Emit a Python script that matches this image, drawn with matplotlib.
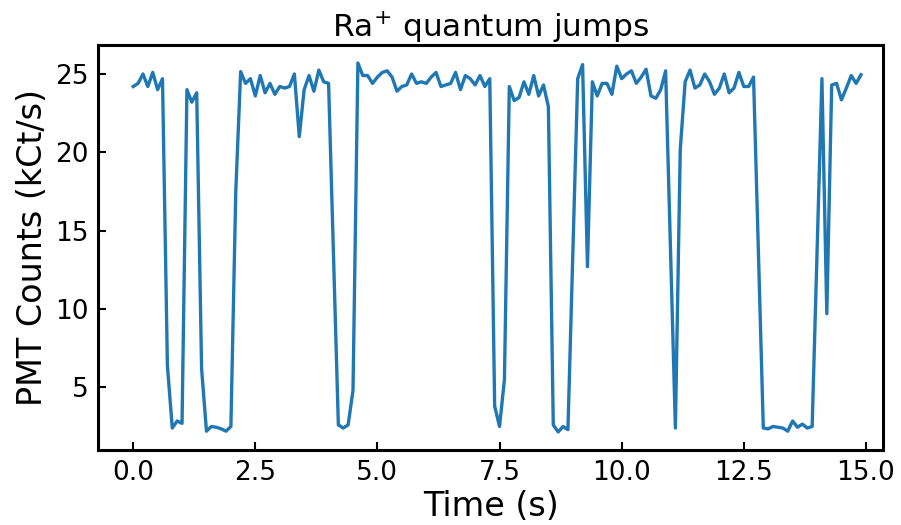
import numpy as np
import matplotlib
matplotlib.use("Agg")
import matplotlib.pyplot as plt

# Time axis (s), 0.1 s bins
time_s = np.round(np.arange(0, 15.0, 0.1), 1)

# PMT counts (kCt/s)
counts = [
    24.2, 24.4, 25.0, 24.2, 25.1, 24.0, 24.7, 6.4, 2.4, 2.85,
    2.7, 24.0, 23.2, 23.8, 6.2, 2.2, 2.5, 2.45, 2.35, 2.2,
    2.5, 17.5, 25.15, 24.4, 24.7, 23.6, 24.9, 23.8, 24.4, 23.7,
    24.2, 24.1, 24.2, 25.0, 21.0, 24.0, 24.9, 23.9, 25.25, 24.5,
    24.4, 13.4, 2.6, 2.4, 2.6, 4.8, 25.7, 24.9, 24.9, 24.4,
    24.8, 25.1, 25.2, 24.8, 23.9, 24.2, 24.3, 25.0, 24.4, 24.5,
    24.4, 24.8, 25.1, 24.2, 24.3, 24.4, 25.1, 24.0, 24.9, 24.7,
    24.3, 24.9, 24.2, 24.7, 3.8, 2.5, 5.5, 24.2, 23.3, 23.5,
    24.5, 23.7, 24.9, 23.6, 24.3, 22.9, 2.6, 2.15, 2.5, 2.3,
    13.5, 24.7, 25.6, 12.7, 24.5, 23.6, 24.4, 24.4, 23.7, 25.5,
    24.7, 25.0, 25.2, 24.4, 24.8, 25.3, 23.6, 23.45, 24.0, 25.2,
    13.8, 2.4, 20.2, 24.5, 25.25, 24.1, 24.3, 25.0, 24.5, 23.7,
    24.1, 25.0, 23.8, 24.1, 25.1, 24.2, 24.2, 24.8, 13.5, 2.4,
    2.35, 2.5, 2.45, 2.4, 2.2, 2.85, 2.45, 2.65, 2.4, 2.5,
    13.5, 24.7, 9.7, 24.3, 24.4, 23.35, 24.1, 24.9, 24.4, 24.95,
]

xticks = [0.0, 2.5, 5.0, 7.5, 10.0, 12.5, 15.0]
yticks = [5, 10, 15, 20, 25]

fig = plt.figure(figsize=(9.01, 5.25), dpi=100)
ax = fig.add_axes([0.1088, 0.1429, 0.8712, 0.7714])
ax.plot(time_s, counts, color="#1f77b4", lw=2.4)

ax.set_xlim(-0.72, 15.35)
ax.set_ylim(1.0, 26.85)
ax.set_xticks(xticks)
ax.set_xticklabels([f"{v:.1f}" for v in xticks])
ax.set_yticks(yticks)
ax.tick_params(direction="in", labelsize=19, length=6, width=1.5, pad=7)
for s in ax.spines.values():
    s.set_linewidth(2.2)

ax.set_title("Ra$^{+}$ quantum jumps", fontsize=22.5, pad=6)
ax.set_xlabel("Time (s)", fontsize=24, labelpad=3)
ax.set_ylabel("PMT Counts (kCt/s)", fontsize=24, labelpad=4)

fig.savefig("out.png", dpi=100)
